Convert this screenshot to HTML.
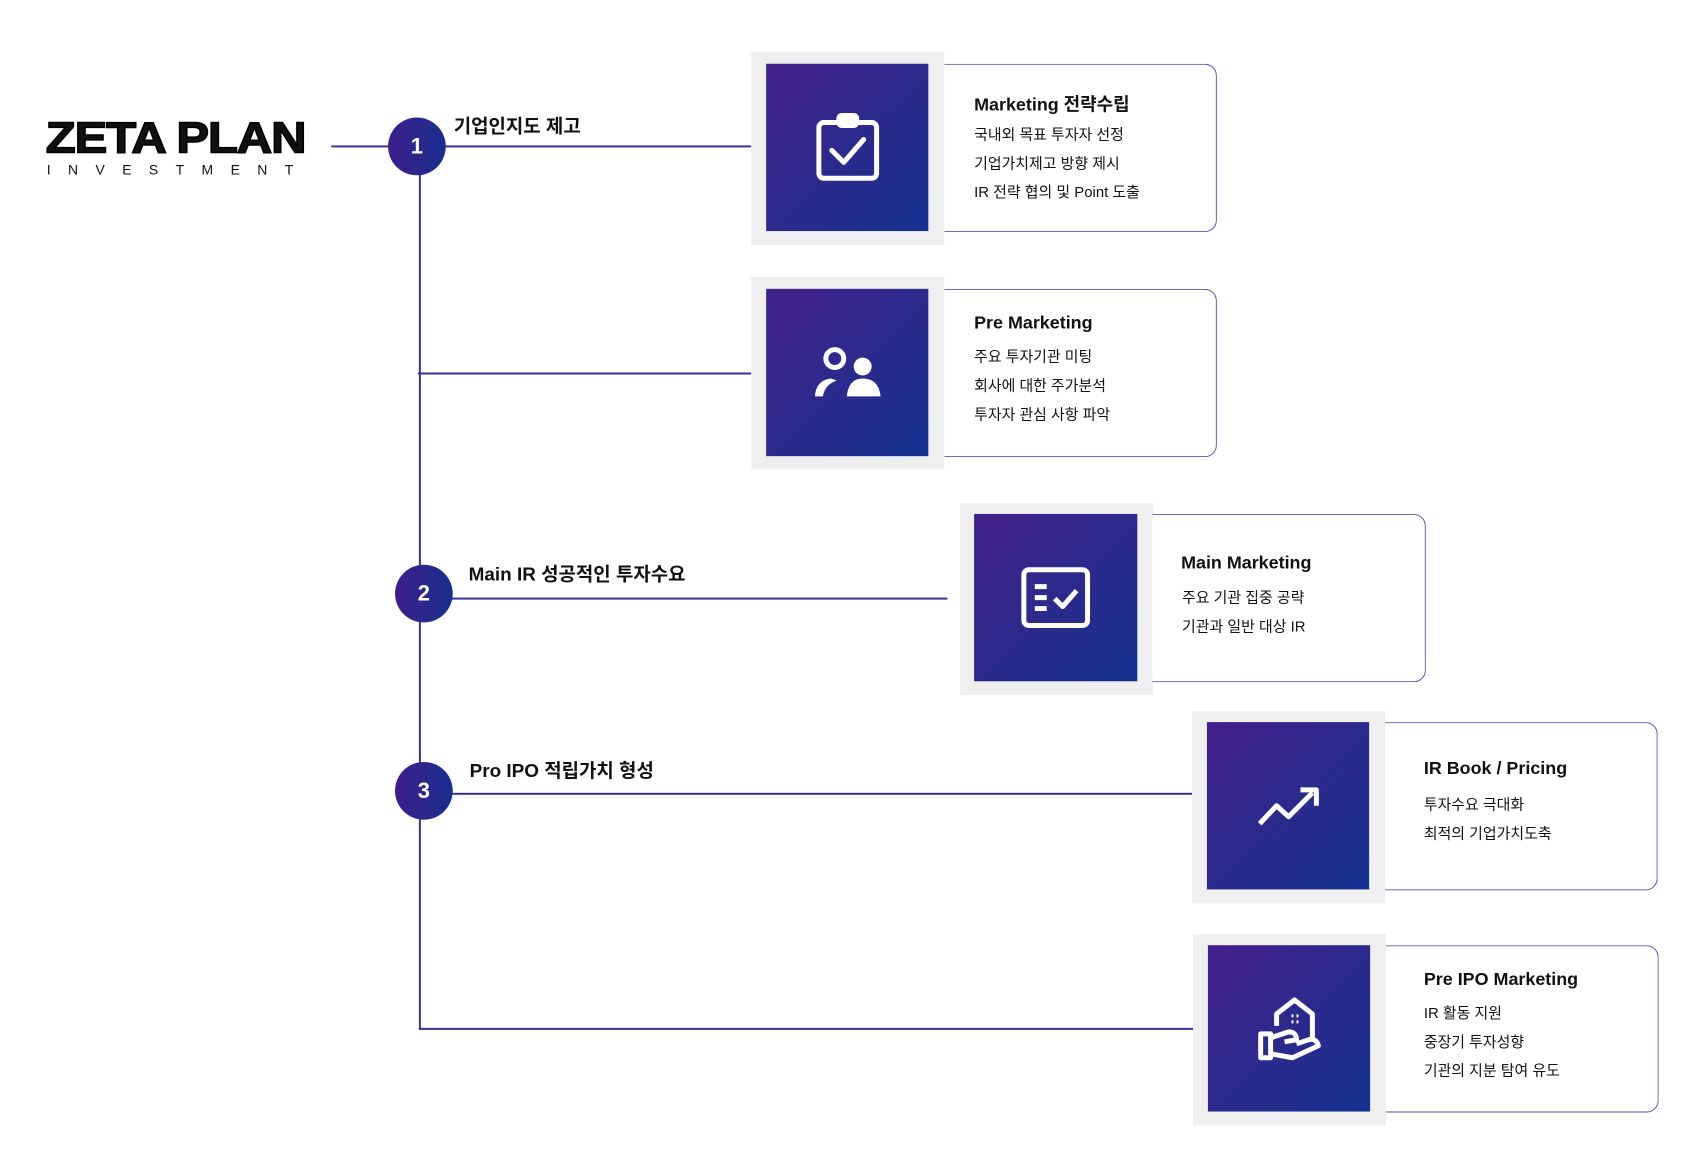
<!DOCTYPE html>
<html><head><meta charset="utf-8"><style>
body{margin:0;width:1701px;height:1158px;background:#fff;position:relative;overflow:hidden;font-family:"Liberation Sans","Noto Sans CJK KR",sans-serif;color:#111}
#w{position:absolute;left:0;top:0;width:1701px;height:1158px;transform:scale(0.995,0.996);transform-origin:0 0}
.a{position:absolute}
.ln{position:absolute;background:#3a2f98}
.circ{position:absolute;width:58px;height:58px;border-radius:50%;background:linear-gradient(90deg,#3d1f8c,#1a2e8e);color:#fff;font-weight:bold;font-size:22px;text-align:center;line-height:58px}
.lbl{position:absolute;font-weight:bold;font-size:19px;white-space:nowrap;line-height:24px}
.frame{position:absolute;background:#efefef}
.inner{position:absolute;background:linear-gradient(135deg,#42208a 0%,#2c2a8c 50%,#14318f 100%);display:flex;align-items:center;justify-content:center}
.box{position:absolute;border:1.5px solid #5b52b2;border-left:none;border-radius:0 12px 12px 0;background:#fff;box-sizing:border-box}
.t{position:absolute;font-weight:bold;font-size:18px;white-space:nowrap}
.b{position:absolute;font-size:15px;white-space:nowrap}
</style></head><body><div id="w">
<div class="a" style="left:46px;top:117px;font-family:'Liberation Sans',sans-serif;font-weight:900;font-size:44px;letter-spacing:-1px;transform:scaleX(1.12);transform-origin:left;-webkit-text-stroke:1.5px #000;line-height:44px">ZETA PLAN</div>
<div class="a" style="left:47px;top:163px;font-size:14px;letter-spacing:17.5px;line-height:14px">INVESTMENT</div>

<div class="ln" style="left:333px;top:146px;width:422px;height:2px"></div>
<div class="ln" style="left:421px;top:147px;width:2px;height:887px"></div>
<div class="ln" style="left:420px;top:374px;width:335px;height:2px"></div>
<div class="ln" style="left:422px;top:600px;width:530px;height:2px"></div>
<div class="ln" style="left:422px;top:796px;width:776px;height:2px"></div>
<div class="ln" style="left:421px;top:1032px;width:779px;height:2px"></div>

<div class="circ" style="left:390px;top:118px">1</div>
<div class="circ" style="left:397px;top:567px">2</div>
<div class="circ" style="left:397px;top:765px">3</div>
<div class="lbl" style="left:456px;top:116px">기업인지도 제고</div>
<div class="lbl" style="left:471px;top:566px">Main IR 성공적인 투자수요</div>
<div class="lbl" style="left:472px;top:763px">Pro IPO 적립가치 형성</div>

<div class="frame" style="left:755px;top:52px;width:194px;height:194px"></div>
<div class="box" style="left:949px;top:64px;width:274px;height:169px"></div>
<div class="inner" style="left:770px;top:64px;width:163px;height:168px">
<svg width="66" height="70" viewBox="0 0 66 70" fill="none" stroke="#fff" stroke-width="5"><rect x="4" y="10" width="58" height="56" rx="5"/><rect x="24" y="3" width="18" height="10" rx="3" fill="#fff"/><path d="M17 38 L29 50 L49 27" stroke-linecap="round" stroke-linejoin="round"/></svg></div>
<div class="t" style="left:979px;top:91px">Marketing 전략수립</div>
<div class="b" style="left:979px;top:124px">국내외 목표 투자자 선정</div>
<div class="b" style="left:979px;top:153px">기업가치제고 방향 제시</div>
<div class="b" style="left:979px;top:182px">IR 전략 협의 및 Point 도출</div>

<div class="frame" style="left:755px;top:278px;width:194px;height:193px"></div>
<div class="box" style="left:949px;top:290px;width:274px;height:169px"></div>
<div class="inner" style="left:770px;top:290px;width:163px;height:168px">
<svg width="70" height="52" viewBox="0 0 70 52" fill="#fff"><circle cx="22" cy="12" r="9" fill="none" stroke="#fff" stroke-width="5"/><circle cx="50" cy="20" r="9"/><path d="M34 50 Q36 32 50 32 Q66 32 68 50 Z"/><path d="M2 50 Q3 34 18 32 L24 34 Q12 38 10 50 Z"/></svg></div>
<div class="t" style="left:979px;top:314px">Pre Marketing</div>
<div class="b" style="left:979px;top:347px">주요 투자기관 미팅</div>
<div class="b" style="left:979px;top:376px">회사에 대한 주가분석</div>
<div class="b" style="left:979px;top:405px">투자자 관심 사항 파악</div>

<div class="frame" style="left:965px;top:505px;width:194px;height:193px"></div>
<div class="box" style="left:1158px;top:516px;width:275px;height:169px"></div>
<div class="inner" style="left:979px;top:516px;width:164px;height:168px">
<svg width="70" height="62" viewBox="0 0 70 62" fill="none" stroke="#fff" stroke-width="5"><rect x="3" y="3" width="64" height="56" rx="5"/><path d="M14 20h12M14 31h12M14 42h12M34 32l8 8 14-16" stroke-linejoin="round"/></svg></div>
<div class="t" style="left:1187px;top:555px">Main Marketing</div>
<div class="b" style="left:1188px;top:589px">주요 기관 집중 공략</div>
<div class="b" style="left:1188px;top:618px">기관과 일반 대상 IR</div>

<div class="frame" style="left:1198px;top:714px;width:194px;height:193px"></div>
<div class="box" style="left:1392px;top:725px;width:274px;height:169px"></div>
<div class="inner" style="left:1213px;top:725px;width:163px;height:168px">
<svg width="64" height="44" viewBox="0 0 64 44" fill="none" stroke="#fff" stroke-width="5"><path d="M3 40 L20 22 L32 33 L56 9" stroke-linejoin="round"/><path d="M44 6 H60 V22" stroke-linejoin="round"/></svg></div>
<div class="t" style="left:1431px;top:761px">IR Book / Pricing</div>
<div class="b" style="left:1431px;top:797px">투자수요 극대화</div>
<div class="b" style="left:1431px;top:826px">최적의 기업가치도축</div>

<div class="frame" style="left:1199px;top:938px;width:194px;height:192px"></div>
<div class="box" style="left:1393px;top:949px;width:274px;height:168px"></div>
<div class="inner" style="left:1214px;top:949px;width:163px;height:167px">
<svg width="66" height="66" viewBox="0 0 66 66" fill="none" stroke="#fff" stroke-width="5" stroke-linejoin="round"><path d="M20 30 V18 L38 4 L56 18 V44"/><path d="M4 38 H14 V62 H4 Z"/><path d="M14 42 L32 36 Q40 36 40 44 L28 46 M14 58 L36 62 L62 50 Q60 42 52 44 L40 48"/><path d="M35 20h2M40 20h2M35 26h2M40 26h2" stroke-width="3"/></svg></div>
<div class="t" style="left:1431px;top:973px">Pre IPO Marketing</div>
<div class="b" style="left:1431px;top:1006px">IR 활동 지원</div>
<div class="b" style="left:1431px;top:1035px">중장기 투자성향</div>
<div class="b" style="left:1431px;top:1064px">기관의 지분 탐여 유도</div>
</div></body></html>
